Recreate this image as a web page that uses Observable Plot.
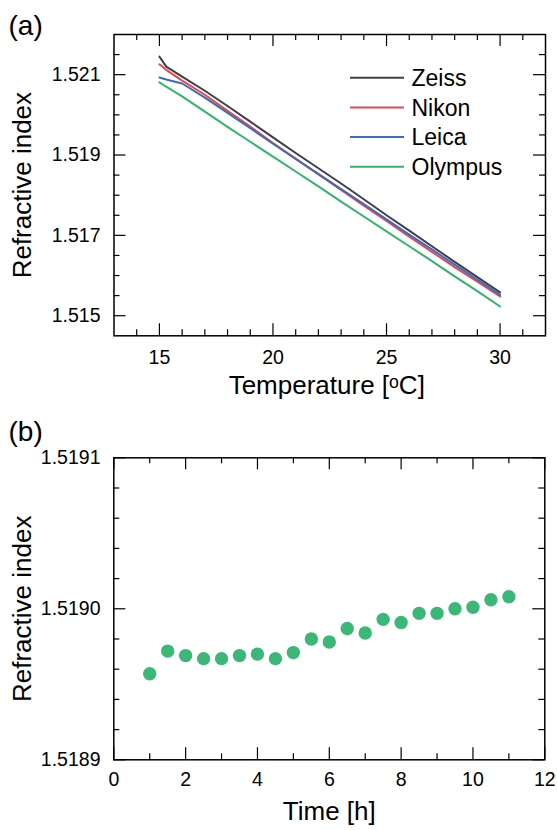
<!DOCTYPE html>
<html><head><meta charset="utf-8">
<script src="https://cdn.jsdelivr.net/npm/d3@7"></script>
<script src="https://cdn.jsdelivr.net/npm/@observablehq/plot@0.6"></script>
<style>
body{margin:0;background:#fff;}
#wrap{position:relative;width:557px;height:830px;}
#wrap svg{display:block;}
</style></head><body><div id="wrap"></div>
<script>
// ---- Panel (a) data ----
const temperature = [15, 15.3, 16, 17, 18, 19, 20, 21, 22, 23, 24, 25, 26, 27, 28, 29, 30];
const zeiss   = [1.52145, 1.52120, 1.52095, 1.52060, 1.52022, 1.51983, 1.51944, 1.51905, 1.51867, 1.51829, 1.51790, 1.51750, 1.51712, 1.51673, 1.51634, 1.51596, 1.51558];
const nikon   = [1.52126, 1.52112, 1.52085, 1.52050, 1.52010, 1.51971, 1.51930, 1.51891, 1.51852, 1.51813, 1.51774, 1.51736, 1.51697, 1.51659, 1.51621, 1.51585, 1.51548];
const leica   = [1.52093, 1.52088, 1.52078, 1.52043, 1.52005, 1.51967, 1.51928, 1.51890, 1.51853, 1.51815, 1.51778, 1.51740, 1.51702, 1.51665, 1.51627, 1.51590, 1.51552];
const olympus = [1.52081, 1.52070, 1.52046, 1.52008, 1.51970, 1.51933, 1.51896, 1.51859, 1.51822, 1.51784, 1.51747, 1.51710, 1.51673, 1.51636, 1.51598, 1.51561, 1.51523];
const seriesNames  = ["Zeiss", "Nikon", "Leica", "Olympus"];
const seriesColors = ["#404040", "#e8474c", "#3a6cc0", "#31b46e"];
const tempMajor = [15, 20, 25, 30];
const tempMinor = [14, 16, 17, 18, 19, 21, 22, 23, 24, 26, 27, 28, 29, 31];
const riMajorA = [1.515, 1.517, 1.519, 1.521];
const riMinorA = [1.5155, 1.516, 1.5165, 1.5175, 1.518, 1.5185, 1.5195, 1.520, 1.5205, 1.5215];

// ---- Panel (b) data ----
const hours  = [1, 1.5, 2, 2.5, 3, 3.5, 4, 4.5, 5, 5.5, 6, 6.5, 7, 7.5, 8, 8.5, 9, 9.5, 10, 10.5, 11];
const riTime = [1.518957, 1.518972, 1.518969, 1.518967, 1.518967, 1.518969, 1.518970, 1.518967, 1.518971, 1.518980, 1.518978, 1.518987, 1.518984, 1.518993, 1.518991, 1.518997, 1.518997, 1.519000, 1.519001, 1.519006, 1.519008];
const timeMajor = [0, 2, 4, 6, 8, 10, 12];
const timeMinor = [1, 3, 5, 7, 9, 11];
const riMajorB = [1.5189, 1.5190, 1.5191];
const riMinorB = [1.51892, 1.51894, 1.51896, 1.51898, 1.51902, 1.51904, 1.51906, 1.51908];

const FONT = '"Liberation Sans", Arial, Helvetica, sans-serif';
const TICKFS = 19.5;
const series = [zeiss, nikon, leica, olympus];
const rows = [];
seriesNames.forEach((name, i) => temperature.forEach((t, j) => rows.push({series: name, t, v: series[i][j]})));
const timeRows = hours.map((h, i) => ({h, v: riTime[i]}));

function frameTicks(fw, fh, xMaj, xMin, yMaj, yMin) {
  const L = 12, S = 6, sw = 1.2;
  return [
    Plot.tickX(xMaj, {x: d => d, insetTop: fh - L, stroke: "#000", strokeWidth: sw}),
    Plot.tickX(xMaj, {x: d => d, insetBottom: fh - L, stroke: "#000", strokeWidth: sw}),
    Plot.tickX(xMin, {x: d => d, insetTop: fh - S, stroke: "#000", strokeWidth: sw}),
    Plot.tickX(xMin, {x: d => d, insetBottom: fh - S, stroke: "#000", strokeWidth: sw}),
    Plot.tickY(yMaj, {y: d => d, insetRight: fw - L, stroke: "#000", strokeWidth: sw}),
    Plot.tickY(yMaj, {y: d => d, insetLeft: fw - L, stroke: "#000", strokeWidth: sw}),
    Plot.tickY(yMin, {y: d => d, insetRight: fw - S, stroke: "#000", strokeWidth: sw}),
    Plot.tickY(yMin, {y: d => d, insetLeft: fw - S, stroke: "#000", strokeWidth: sw})
  ];
}

// ---- Panel (a) ----
const A = {w: 557, h: 410, ml: 113.5, mr: 12, mt: 34, mb: 74.7};
const fwA = A.w - A.ml - A.mr, fhA = A.h - A.mt - A.mb;
const plotA = Plot.plot({
  width: A.w, height: A.h,
  marginLeft: A.ml, marginRight: A.mr, marginTop: A.mt, marginBottom: A.mb,
  style: {fontFamily: FONT, fontSize: TICKFS + "px", color: "#000", background: "transparent", overflow: "visible"},
  x: {domain: [13, 32]},
  y: {domain: [1.5145, 1.522]},
  color: {domain: seriesNames, range: seriesColors},
  marks: [
    Plot.line(rows, {x: "t", y: "v", z: "series", stroke: "series", strokeWidth: 2}),
    ...frameTicks(fwA, fhA, tempMajor, tempMinor, riMajorA, riMinorA),
    Plot.frame({stroke: "#000", strokeWidth: 1.5}),
    Plot.axisX({ticks: tempMajor, tickSize: 0, tickPadding: 14.5, tickFormat: d => String(d), label: null, fontSize: TICKFS}),
    Plot.axisY({ticks: riMajorA, tickSize: 0, tickPadding: 13.5, tickFormat: d => d.toFixed(3), label: null, fontSize: TICKFS}),
    Plot.text(["Refractive index"], {frameAnchor: "left", textAnchor: "middle", rotate: -90, dx: -91, fontSize: 26, lineAnchor: "middle"}),
    Plot.text(["Temperature [ᵒC]"], {frameAnchor: "bottom", textAnchor: "middle", dx: -3, dy: 50, fontSize: 26, lineAnchor: "middle"}),
    Plot.text(["(a)"], {frameAnchor: "top-left", textAnchor: "start", lineAnchor: "top", dx: 8 - A.ml, dy: -19, fontSize: 28})
  ]
});

// legend inside panel (a)
const leg = d3.select(plotA).append("g").attr("font-family", FONT).attr("font-size", 23).attr("text-anchor", "start");
seriesNames.forEach((name, i) => {
  const y = 77.7 + i * 29.7;
  leg.append("line").attr("x1", 350).attr("x2", 404).attr("y1", y).attr("y2", y)
     .attr("stroke", seriesColors[i]).attr("stroke-width", 2);
  leg.append("text").attr("x", 411.5).attr("y", y).attr("dy", "0.36em").attr("fill", "#000").attr("text-anchor", "start").text(name);
});

// ---- Panel (b) ----
const B = {w: 557, h: 420, ml: 113.3, mr: 12.7, mt: 47.3, mb: 70.7};
const fwB = B.w - B.ml - B.mr, fhB = B.h - B.mt - B.mb;
const plotB = Plot.plot({
  width: B.w, height: B.h,
  marginLeft: B.ml, marginRight: B.mr, marginTop: B.mt, marginBottom: B.mb,
  style: {fontFamily: FONT, fontSize: TICKFS + "px", color: "#000", background: "transparent", overflow: "visible"},
  x: {domain: [0, 12]},
  y: {domain: [1.5189, 1.5191]},
  marks: [
    ...frameTicks(fwB, fhB, timeMajor, timeMinor, riMajorB, riMinorB),
    Plot.frame({stroke: "#000", strokeWidth: 1.5}),
    Plot.dot(timeRows, {x: "h", y: "v", r: 6.7, fill: "#3bb878", stroke: "none"}),
    Plot.axisX({ticks: timeMajor, tickSize: 0, tickPadding: 12.4, tickFormat: d => String(d), label: null, fontSize: TICKFS}),
    Plot.axisY({ticks: riMajorB, tickSize: 0, tickPadding: 13.3, tickFormat: d => d.toFixed(4), label: null, fontSize: TICKFS}),
    Plot.text(["Refractive index"], {frameAnchor: "left", textAnchor: "middle", rotate: -90, dx: -91, fontSize: 26, lineAnchor: "middle"}),
    Plot.text(["Time [h]"], {frameAnchor: "bottom", textAnchor: "middle", dy: 51.5, fontSize: 26, lineAnchor: "middle"}),
    Plot.text(["(b)"], {frameAnchor: "top-left", textAnchor: "start", lineAnchor: "top", dx: 8 - B.ml, dy: -37, fontSize: 28})
  ]
});

const wrap = document.getElementById("wrap");
wrap.appendChild(plotA);
wrap.appendChild(plotB);
</script>
</body></html>
